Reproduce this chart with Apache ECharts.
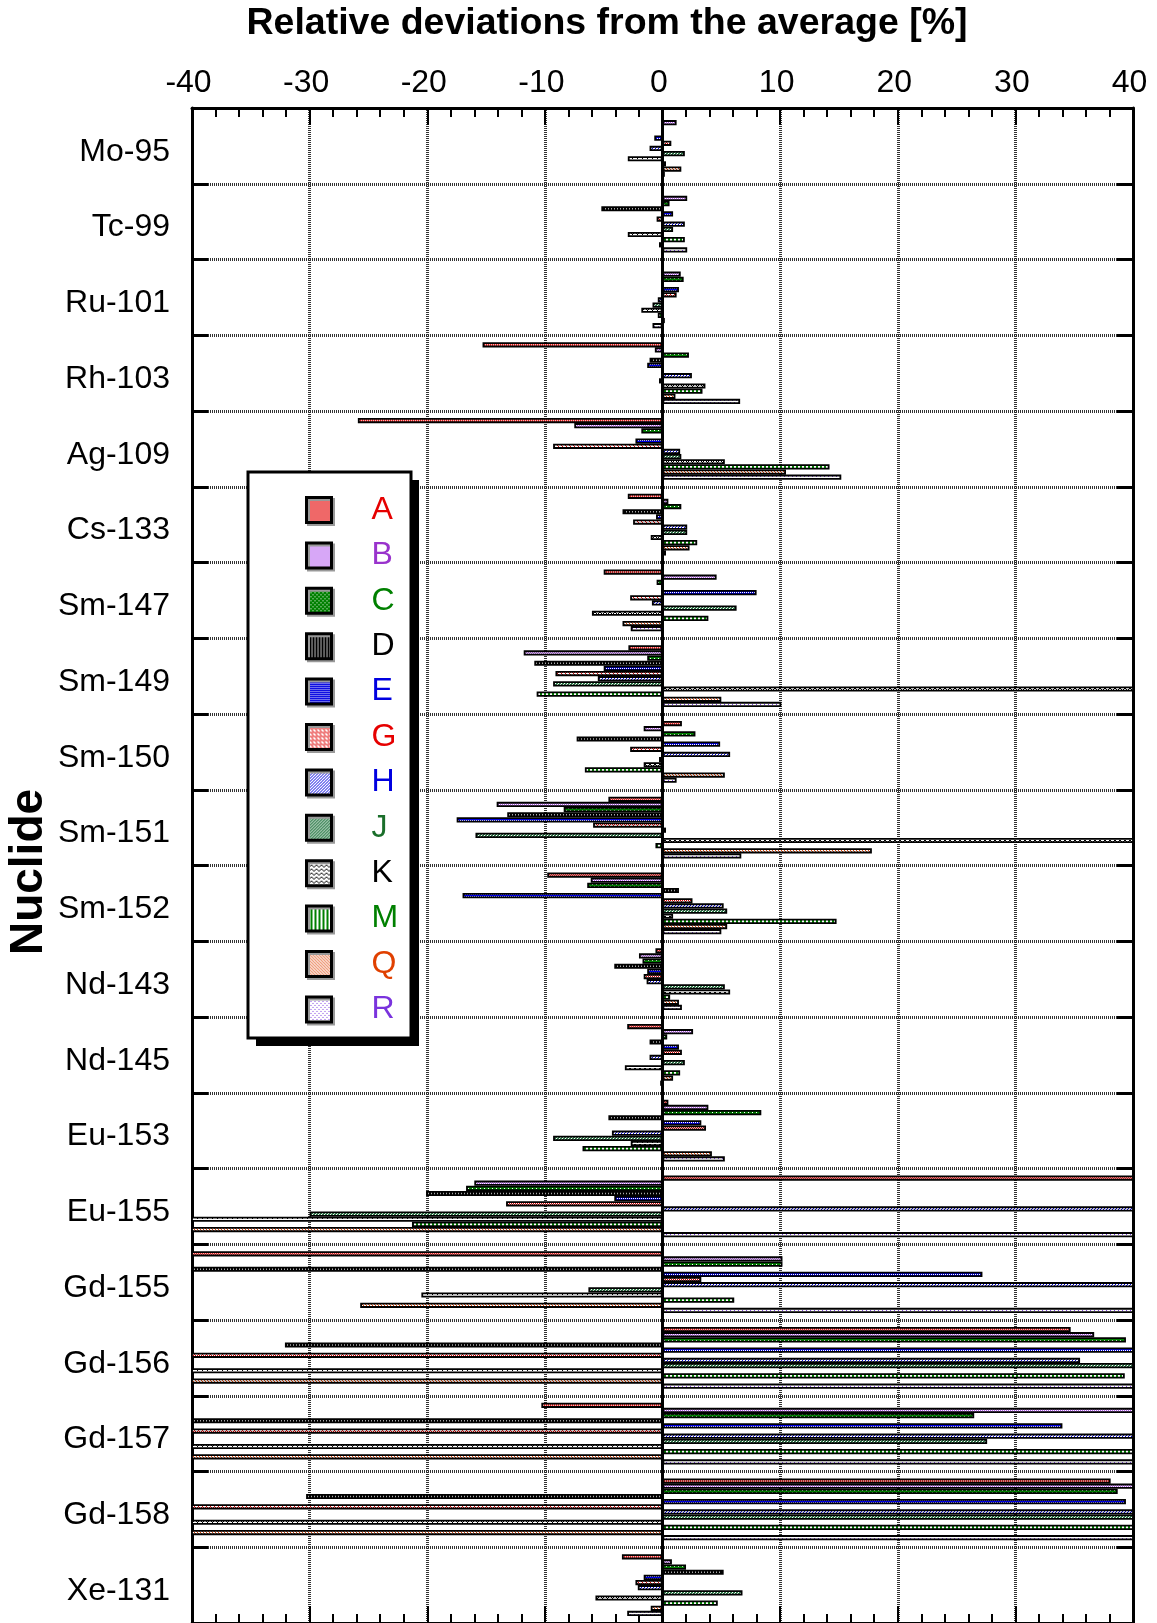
<!DOCTYPE html>
<html><head><meta charset="utf-8">
<script src="https://cdn.jsdelivr.net/npm/echarts@6/dist/echarts.min.js"></script>
<style>html,body{margin:0;padding:0;background:#fff}#c{width:1157px;height:1623px}</style>
</head><body><div id="c"></div>
<script>
// ---------- DATA ----------
const categories = ['Mo-95','Tc-99','Ru-101','Rh-103','Ag-109','Cs-133','Sm-147','Sm-149','Sm-150','Sm-151','Sm-152','Nd-143','Nd-145','Eu-153','Eu-155','Gd-155','Gd-156','Gd-157','Gd-158','Xe-131'];
const seriesNames = ['A','B','C','D','E','G','H','J','K','M','Q','R'];
const xTickValues = [-40,-30,-20,-10,0,10,20,30,40];
const valA = [0, 0, 0, -15.3, -25.9, -2.95, -5.0, -2.9, 1.65, -4.6, -9.8, -0.6, -3.0, 0.5, 45, -45, 34.7, -10.3, 38.1, -3.45];
const valB = [1.2, 2.1, 1.55, -0.65, -7.5, 0.5, 4.6, -11.8, -1.6, -14.1, -6.1, -2.0, 2.6, 3.9, -16.0, 10.2, 36.7, 45, 45, 0.8];
const valC = [0, 0.6, 1.8, 2.25, -1.8, 1.6, -0.5, -1.3, 2.8, -8.4, -6.4, -1.7, 0.4, 8.4, -16.7, 10.2, 39.4, 26.5, 38.7, 2.0];
const valD = [0, -5.2, 0, -1.1, 0, -3.4, 0, -10.9, -7.3, -13.2, 1.4, -4.1, -1.1, -4.6, -20.1, -45, -32.1, -45, -30.3, 5.2];
const valE = [-0.7, 0.9, 1.4, -1.3, -2.3, -0.55, 8.0, -5.0, 4.9, -17.5, -17.0, -1.3, 1.4, 3.3, -4.1, 27.2, 45, 34.0, 39.4, -1.6];
const valG = [0.75, -0.5, 1.2, 0, -9.3, -2.5, -2.75, -9.1, -2.75, -5.9, 2.55, -1.6, 1.65, 3.7, -13.3, 3.3, -45, -45, -45, -2.3];
const valH = [-1.1, 1.9, -0.4, 2.5, 1.5, 2.1, -0.9, -5.5, 5.75, 0.3, 5.2, -1.35, -1.1, -4.3, 45, 45, 35.5, 45, 45, -2.1];
const valJ = [1.9, 0.9, -0.85, -0.3, 1.6, 2.1, 6.3, -9.3, -0.3, -15.9, 5.5, 5.3, 1.9, -9.3, -30.0, -6.3, 45, 27.6, 45, 6.8];
const valK = [-2.95, -2.95, -1.8, 3.65, 5.3, -1.0, -6.0, 45, -1.6, 45, 0.9, 5.75, -3.2, -2.7, -45, -20.5, -45, -45, -45, -5.7];
const valM = [0.3, 1.9, -0.4, 3.4, 14.2, 2.95, 3.9, -10.7, -6.6, -0.6, 14.8, 0.65, 1.5, -6.8, -21.3, 6.1, 39.3, 45, 45, 4.7];
const valQ = [1.6, -0.3, 0.2, 1.1, 10.5, 2.3, -3.4, 5.0, 5.3, 17.8, 5.5, 1.4, 0.9, 4.2, -45, -25.7, -45, -45, -45, -1.0];
const valR = [0.2, 2.1, -0.85, 6.6, 15.2, 0.3, -2.7, 10.1, 1.2, 6.7, 5.0, 1.65, -0.2, 5.3, 45, 45, 45, 45, 45, -3.0];
const seriesValues = {A:valA,B:valB,C:valC,D:valD,E:valE,G:valG,H:valH,J:valJ,K:valK,M:valM,Q:valQ,R:valR};

// ---------- STYLES ----------
const styles = {
  A:{text:'#e60000', bg:'#ffb0b0', fg:'#e02020', tile:['x.','x.','.x','x.']},
  B:{text:'#9933cc', bg:'#ffffff', fg:'#b050f0', tile:['x.','.x']},
  C:{text:'#008000', bg:'#008000', fg:'#ffffff', tile:['x...','....','..x.','....']},
  D:{text:'#000000', bg:'#aaaaaa', fg:'#000000', tile:['xx.','xx.']},
  E:{text:'#0000e0', bg:'#0000e0', fg:'#ffffff', tile:['x.x.','....','.x.x','....']},
  G:{text:'#e60000', bg:'#ffffff', fg:'#e00000', tile:['x.x.','.x..','..x.','.x.x']},
  H:{text:'#0000e0', bg:'#ffffff', fg:'#0000e0', tile:['..x','.x.','x..']},
  J:{text:'#1a6e2a', bg:'#ffffff', fg:'#2e7d4a', tile:['xx.','x.x','.xx']},
  K:{text:'#000000', bg:'#ffffff', fg:'#000000', tile:['x...x','.x.x.','..x..','.....']},
  M:{text:'#008000', bg:'#ffffff', fg:'#008000', tile:['xx..','xx..']},
  Q:{text:'#e04000', bg:'#ffffff', fg:'#e04000', tile:['x..','.x.','..x']},
  R:{text:'#7a33dd', bg:'#ffffff', fg:'#8040e0', tile:['x...','....','..x.','....']}
};
function makePattern(s){
  const h = s.tile.length, w = s.tile[0].length;
  const c = document.createElement('canvas'); c.width = w; c.height = h;
  const ctx = c.getContext('2d');
  ctx.fillStyle = s.bg; ctx.fillRect(0,0,w,h);
  ctx.fillStyle = s.fg;
  for (let y=0;y<h;y++) for (let x=0;x<w;x++) if (s.tile[y][x]==='x') ctx.fillRect(x,y,1,1);
  return {image:c, repeat:'repeat'};
}
const FONT = 'Liberation Sans, Arial, Helvetica, sans-serif';
const gridLine = {color:'#333', width:3, type:[1,1]};

const series = seriesNames.map((n,i)=>{
  const s = {
    name:n, type:'bar', data: seriesValues[n],
    barWidth: 5.2, barGap:'-1%',
    itemStyle:{color: makePattern(styles[n]), borderColor:'#000', borderWidth:1.8},
    emphasis:{disabled:true}, silent:true
  };
  if (i===0) {
    s.markLine = {silent:true, symbol:['none','none'], label:{show:false},
      lineStyle:{color:'#000', width:3, type:'solid'}, data:[{xAxis:0}], z:10};
  }
  return s;
});

const chart = echarts.init(document.getElementById('c'), null, {renderer:'canvas'});
chart.setOption({
  animation:false,
  backgroundColor:'#fff',
  textStyle:{fontFamily:FONT},
  grid:{left:192, top:108, width:941, height:1516, containLabel:false},
  xAxis:[
    {type:'value', position:'top', min:xTickValues[0], max:xTickValues[xTickValues.length-1], interval:10,
     axisLine:{show:true, onZero:false, lineStyle:{color:'#000', width:3}},
     axisTick:{show:true, inside:true, length:17, lineStyle:{color:'#000', width:2}},
     minorTick:{show:true, splitNumber:5, length:9, lineStyle:{color:'#000', width:2}},
     splitLine:{show:true, lineStyle:gridLine},
     axisLabel:{fontSize:32, color:'#000', margin:9, padding:[0,7,0,0], fontFamily:FONT}},
    {type:'value', position:'bottom', min:xTickValues[0], max:xTickValues[xTickValues.length-1], interval:10,
     axisLine:{show:true, onZero:false, lineStyle:{color:'#000', width:3}},
     axisTick:{show:true, inside:true, length:17, lineStyle:{color:'#000', width:2}},
     minorTick:{show:true, splitNumber:5, length:9, lineStyle:{color:'#000', width:2}},
     splitLine:{show:false}, axisLabel:{show:false}}
  ],
  yAxis:[
    {type:'category', data:categories, inverse:true, position:'left',
     axisLine:{show:true, onZero:false, lineStyle:{color:'#000', width:3}},
     axisTick:{show:true, inside:true, length:16, lineStyle:{color:'#000', width:3}},
     splitLine:{show:true, lineStyle:gridLine},
     axisLabel:{fontSize:32, color:'#000', margin:22, verticalAlign:'top', lineHeight:12, fontFamily:FONT}},
    {type:'category', data:categories, inverse:true, position:'right',
     axisLine:{show:true, onZero:false, lineStyle:{color:'#000', width:3}},
     axisTick:{show:true, inside:true, length:16, lineStyle:{color:'#000', width:3}},
     splitLine:{show:false}, axisLabel:{show:false}}
  ],
  legend:{
    orient:'vertical', left:305, top:494, padding:0, itemGap:13.4,
    itemWidth:25, itemHeight:25, icon:'rect', selectedMode:false, z:20,
    itemStyle:{borderColor:'#000', borderWidth:3, shadowColor:'#999', shadowOffsetX:2, shadowOffsetY:2, shadowBlur:0},
    textStyle:{fontSize:32, fontFamily:FONT, padding:[0,0,0,35]},
    data: seriesNames.map(n=>({name:n, textStyle:{color:styles[n].text}}))
  },
  graphic:[
    {type:'rect', z:15, shape:{x:256, y:480, width:163, height:566}, style:{fill:'#000'}},
    {type:'rect', z:16, shape:{x:248, y:472, width:163, height:566},
     style:{fill:'#fff', stroke:'#000', lineWidth:3}},
    {type:'text', z:15, x:607, y:24, style:{text:'Relative deviations from the average [%]', font:'bold 37.5px '+FONT, fill:'#000', align:'center', verticalAlign:'middle'}},
    {type:'text', z:15, x:29, y:872, rotation:Math.PI/2, style:{text:'Nuclide', font:'bold 46px '+FONT, fill:'#000', align:'center', verticalAlign:'middle'}}
  ],
  series: series
});
</script></body></html>
